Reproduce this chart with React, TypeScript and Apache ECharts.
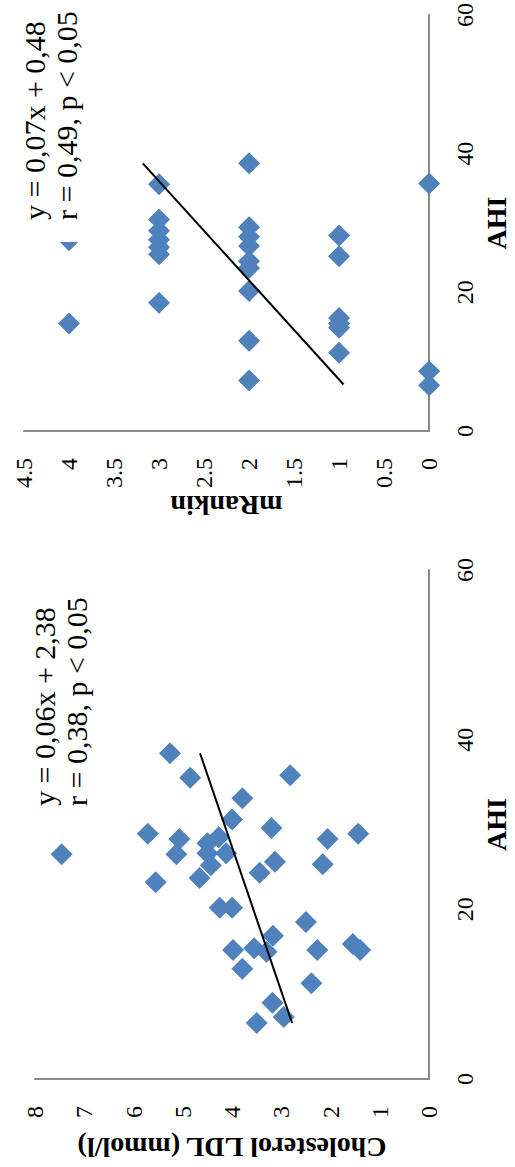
import React, { useEffect, useRef } from "react";
import * as echarts from "echarts";

// Chart 1: AHI vs Cholesterol LDL
const AHI_LDL = [38.4, 35.5, 35.8, 33.1, 30.6, 29.6, 28.9, 28.3, 28.5, 27.8, 28.3, 28.9, 26.5, 26.5, 26.6, 26.6, 25.2, 25.6, 24.3, 25.3, 23.2, 23.7, 20.2, 20.2, 18.5, 16.9, 15.2, 15.4, 15.0, 15.2, 15.9, 15.2, 13.0, 11.3, 9.0, 7.3, 6.6];
const LDL = [5.26, 4.85, 2.82, 3.79, 4.0, 3.2, 5.71, 5.07, 4.27, 4.5, 2.06, 1.44, 7.46, 5.13, 4.5, 4.12, 4.43, 3.13, 3.44, 2.16, 5.55, 4.66, 4.25, 4.0, 2.5, 3.17, 3.98, 3.55, 3.3, 2.27, 1.55, 1.4, 3.79, 2.39, 3.18, 2.95, 3.5];
const TREND_LDL = [[6.6, 2.78], [38.4, 4.65]];
const EQ_LDL = ["y = 0,06x + 2,38", "r = 0,38, p < 0,05"];

// Chart 2: AHI vs mRankin
const AHI_MR = [27.5, 15.5, 35.6, 30.5, 28.9, 27.6, 26.5, 25.5, 18.5, 38.6, 29.4, 28.0, 26.7, 24.5, 23.5, 20.2, 13.0, 7.3, 28.2, 25.2, 16.3, 15.5, 14.9, 11.3, 35.7, 8.6, 6.6];
const MRANKIN = [4, 4, 3, 3, 3, 3, 3, 3, 3, 2, 2, 2, 2, 2, 2, 2, 2, 2, 1, 1, 1, 1, 1, 1, 0, 0, 0];
const TREND_MR = [[6.7, 0.95], [38.6, 3.18]];
const EQ_MR = ["y = 0,07x + 0,48", "r = 0,49, p < 0,05"];

const X_NAME = "AHI";
const Y1_NAME = "Cholesterol LDL (mmol/l)";
const Y2_NAME = "mRankin";

const FONT = "'Liberation Serif', 'Times New Roman', serif";
const BLUE = "#4F81BD";
const AXIS_GRAY = "#898989";

function xAxisDef(gridIndex: number) {
  return {
    gridIndex,
    type: "value",
    min: 0,
    max: 60,
    interval: 20,
    name: X_NAME,
    nameLocation: "middle",
    nameGap: 42,
    nameTextStyle: { fontFamily: FONT, fontSize: 28, fontWeight: "bold", color: "#000" },
    axisLine: { show: true, onZero: false, lineStyle: { color: AXIS_GRAY, width: 2 } },
    axisTick: { show: false },
    splitLine: { show: false },
    axisLabel: { fontFamily: FONT, fontSize: 24, color: "#000", margin: 24 },
  };
}

function yAxisDef(gridIndex: number, max: number, interval: number, name: string) {
  return {
    gridIndex,
    type: "value",
    min: 0,
    max,
    interval,
    name,
    nameLocation: "middle",
    nameGap: 54,
    nameTextStyle: { fontFamily: FONT, fontSize: 28, fontWeight: "bold", color: "#000" },
    axisLine: { show: true, onZero: false, lineStyle: { color: AXIS_GRAY, width: 2 } },
    axisTick: { show: false },
    splitLine: { show: false },
    axisLabel: { fontFamily: FONT, fontSize: 24, color: "#000", margin: 27 },
  };
}

export default function App() {
  const ref = useRef<HTMLDivElement>(null);

  useEffect(() => {
    if (!ref.current) return;
    const chart = echarts.init(ref.current, undefined, { renderer: "svg" });
    const eqStyle = {
      font: `30px ${FONT}`,
      fill: "#000",
      lineHeight: 32,
      verticalAlign: "top",
      align: "left",
    };
    chart.setOption({
      animation: false,
      backgroundColor: "#fff",
      textStyle: { fontFamily: FONT },
      grid: [
        { left: 88, top: 35, width: 509, height: 412 },
        { left: 736, top: 24, width: 418, height: 423 },
      ],
      xAxis: [xAxisDef(0), xAxisDef(1)],
      yAxis: [yAxisDef(0, 8, 1, Y1_NAME), yAxisDef(1, 4.5, 0.5, Y2_NAME)],
      series: [
        {
          type: "scatter",
          xAxisIndex: 0,
          yAxisIndex: 0,
          symbol: "diamond",
          symbolSize: 22,
          itemStyle: { color: BLUE, opacity: 1 },
          data: AHI_LDL.map((a, i) => [a, LDL[i]]),
        },
        {
          type: "line",
          xAxisIndex: 0,
          yAxisIndex: 0,
          symbol: "none",
          lineStyle: { color: "#000", width: 2 },
          data: TREND_LDL,
          z: 3,
        },
        {
          type: "scatter",
          xAxisIndex: 1,
          yAxisIndex: 1,
          symbol: "diamond",
          symbolSize: 22,
          itemStyle: { color: BLUE, opacity: 1 },
          data: AHI_MR.map((a, i) => [a, MRANKIN[i]]),
        },
        {
          type: "line",
          xAxisIndex: 1,
          yAxisIndex: 1,
          symbol: "none",
          lineStyle: { color: "#000", width: 2 },
          data: TREND_MR,
          z: 3,
        },
      ],
      graphic: [
        {
          type: "text",
          x: 361,
          y: 28,
          z: 20,
          style: { ...eqStyle, text: EQ_LDL.join("\n") },
        },
        {
          type: "rect",
          z: 19,
          shape: { x: 925, y: 10, width: 240, height: 76 },
          style: { fill: "#fff" },
        },
        {
          type: "text",
          x: 947,
          y: 18,
          z: 20,
          style: { ...eqStyle, text: EQ_MR.join("\n") },
        },
      ],
    });
    return () => chart.dispose();
  }, []);

  return (
    <div
      style={{
        position: "absolute",
        left: 0,
        top: 0,
        width: 515,
        height: 1167,
        overflow: "hidden",
        background: "#fff",
      }}
    >
      <div
        ref={ref}
        style={{
          position: "absolute",
          left: 0,
          top: 0,
          width: 1167,
          height: 515,
          transformOrigin: "0 0",
          transform: "translate(0px, 1167px) rotate(-90deg)",
        }}
      />
    </div>
  );
}
